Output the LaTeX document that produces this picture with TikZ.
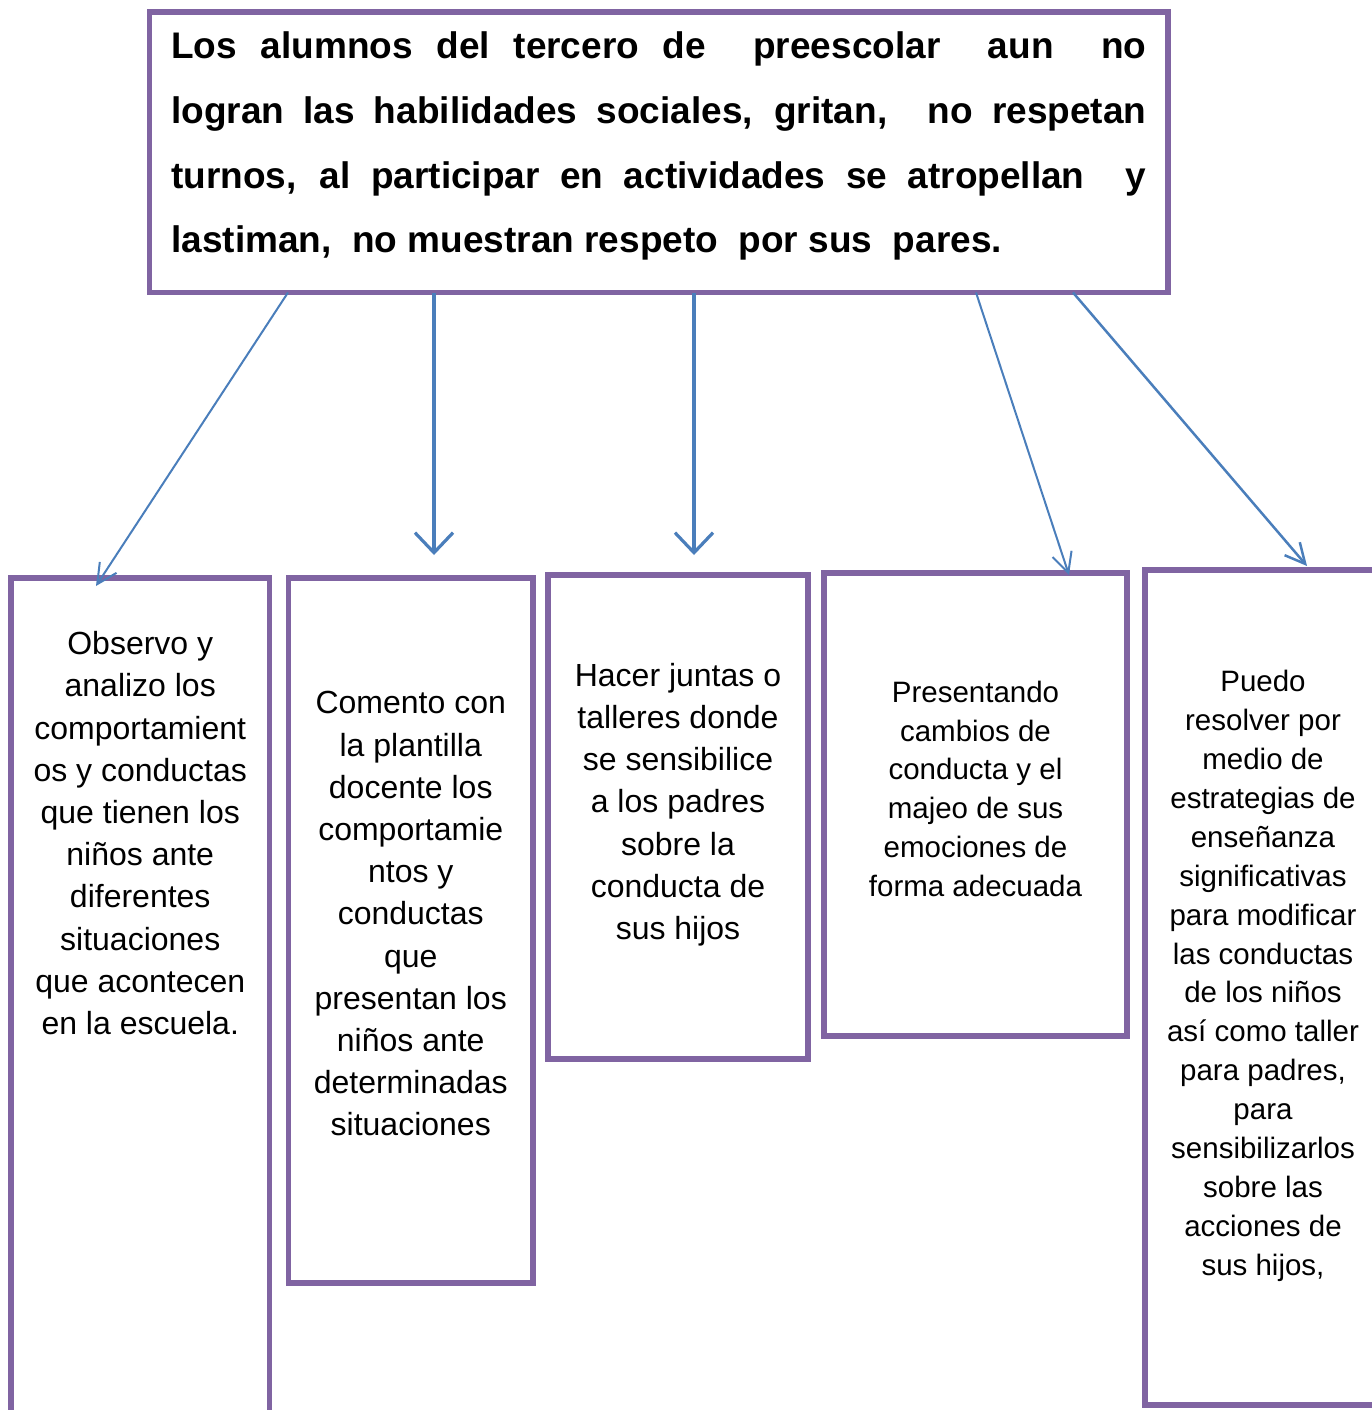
\documentclass[tikz,border=0pt]{standalone}
\usepackage{fontspec}
\setmainfont{Liberation Sans}
\usepackage{tikz}
\usetikzlibrary{calc,arrows.meta}
\definecolor{morado}{HTML}{8064A2}
\definecolor{azul}{HTML}{4A7EBB}
\tikzstyle{principal} = [rectangle, draw=morado, line width=2.6pt, inner xsep=10.875pt, inner ysep=0pt, outer sep=0pt, anchor=north west, font=\bfseries\fontsize{18.5}{32.35}\selectfont]
\tikzstyle{respuesta} = [rectangle, draw=morado, line width=2.6pt, inner sep=0pt, outer sep=0pt, anchor=north west, font=\fontsize{16}{21.1}\selectfont]
\tikzstyle{respuestachica} = [respuesta, font=\fontsize{14.75}{19.45}\selectfont]
\tikzstyle{flecha} = [azul, line width=1pt, -{Straight Barb[length=10pt,width=10pt]}]
\tikzstyle{flecharecta} = [azul, line width=1.6pt, -{Straight Barb[length=10pt,width=19pt]}]
\newcommand{\renglon}[1]{\hbox to\hsize{#1}}
\newcommand{\texto}[4]{\parbox[c][#2][t]{#1}{\centering\vspace*{#3}#4\par}}

\begin{document}
\begin{tikzpicture}[x=0.5pt,y=-0.5pt]
\useasboundingbox (0,0) rectangle (1372,1410);
\node (prob) [principal] at (149.5,12) {\parbox[c][140.25pt][t]{487.5pt}{\vspace*{10pt}%
\renglon{Los alumnos del tercero de \ preescolar \ aun \ no}%
\renglon{logran las habilidades sociales, gritan, \ no respetan}%
\renglon{turnos, al participar en actividades se atropellan \ y}%
\renglon{lastiman, \ no muestran respeto \ por sus \ pares.\hfil}}};
\node (obs) [respuesta] at (11,578) {\texto{129.25pt}{431pt}{26.7pt}{Observo y\\ analizo los\\ comportamient\\ os y conductas\\ que tienen los\\ niños ante\\ diferentes\\ situaciones\\ que acontecen\\ en la escuela.}};
\node (com) [respuesta] at (288.5,578) {\texto{122.25pt}{352.5pt}{56.8pt}{Comento con\\ la plantilla\\ docente los\\ comportamie\\ ntos y\\ conductas\\ que\\ presentan los\\ niños ante\\ determinadas\\ situaciones}};
\node (jun) [respuesta] at (548,575) {\texto{130pt}{242pt}{44pt}{Hacer juntas o\\ talleres donde\\ se sensibilice\\ a los padres\\ sobre la\\ conducta de\\ sus hijos}};
\node (cam) [respuestachica] at (824,573) {\texto{151.5pt}{231.5pt}{53.9pt}{Presentando\\ cambios de\\ conducta y el\\ majeo de sus\\ emociones de\\ forma adecuada}};
\node (res) [respuestachica] at (1145,570) {\texto{118pt}{417.5pt}{50.2pt}{Puedo\\ resolver por\\ medio de\\ estrategias de\\ enseñanza\\ significativas\\ para modificar\\ las conductas\\ de los niños\\ así como taller\\ para padres,\\ para\\ sensibilizarlos\\ sobre las\\ acciones de\\ sus hijos,}};
\draw [flecha] ($(prob.south west)+(138.5,0)$) -- ($(obs.north west)+(85,8)$);
\draw [flecharecta] ($(prob.south west)+(284.5,0)$) -- ($(com.north west)+(145.5,-23)$);
\draw [flecharecta] ($(prob.south west)+(544.5,0)$) -- ($(jun.north west)+(146,-20)$);
\draw [flecha] ($(prob.south west)+(826.5,0)$) -- ($(cam.north west)+(245,2)$);
\draw [flecha, line width=1.25pt] ($(prob.south west)+(923.5,0)$) -- ($(res.north west)+(162,-4)$);
\end{tikzpicture}
\end{document}
